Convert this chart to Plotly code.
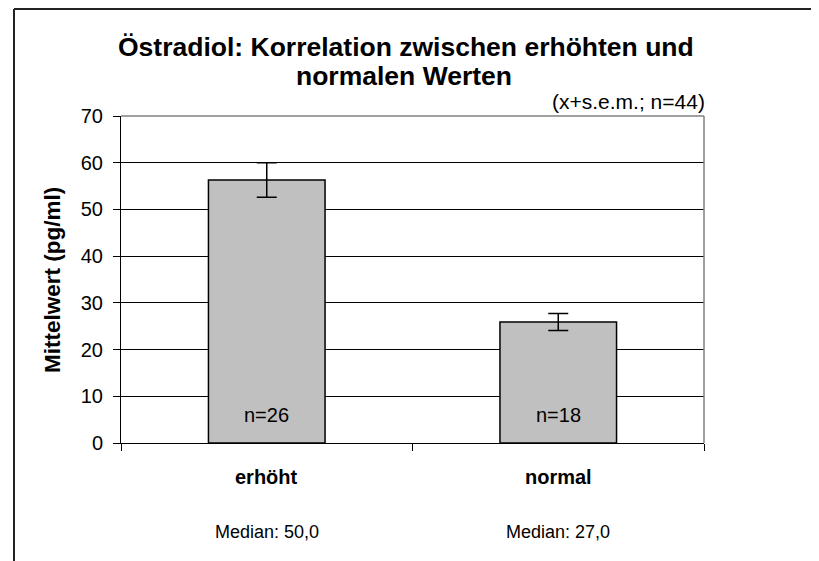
"""Östradiol: Mittelwerte erhöht vs. normal mit s.e.m.-Fehlerbalken."""

import plotly.graph_objects as go

gruppen = ["erhöht", "normal"]
mittelwerte = [56.3, 25.9]
sem = [3.7, 1.8]
n_werte = [26, 18]
mediane = ["50,0", "27,0"]

FONT = "Liberation Sans, Arial, sans-serif"

# Pixel-Layout des Originals (819x561); die Seite hat 8px Body-Rand
W, H = 819, 561
OFF = 8
L, R, T, B = 121, 704, 116, 443


def px_x(p):
    return (p - L) / (R - L)


def px_y(p):
    return (B - p) / (B - T)


def text_at(x, y, text, size, xref="paper", yref="paper", **kw):
    return dict(x=x, y=y, xref=xref, yref=yref, text=text, showarrow=False,
                xanchor=kw.pop("xanchor", "center"), yanchor="middle",
                font=dict(size=size, color="black", family=FONT), **kw)


xs = list(range(len(gruppen)))

fig = go.Figure(
    go.Bar(
        x=xs,
        y=mittelwerte,
        width=0.4,
        marker=dict(color="#C0C0C0", line=dict(color="black", width=1.5)),
        error_y=dict(type="data", array=sem, visible=True, color="black", thickness=1.5, width=10),
        hoverinfo="skip",
    )
)

ann = []
for i, g in enumerate(gruppen):
    ann.append(text_at(i, 6, f"n={n_werte[i]}", 20, xref="x", yref="y"))
    ann.append(text_at(i, px_y(477), f"<b>{g}</b>", 20, xref="x"))
    ann.append(text_at(i, px_y(532), f"Median: {mediane[i]}", 18, xref="x"))

ann.append(text_at(px_x(406), px_y(47), "<b>Östradiol: Korrelation zwischen erhöhten und</b>", 26.5))
ann.append(text_at(px_x(404), px_y(76), "<b>normalen Werten</b>", 26.5))
ann.append(text_at(px_x(707), px_y(102), "(x+s.e.m.; n=44)", 21, xanchor="right"))
ann.append(text_at(px_x(52), px_y(280), "<b>Mittelwert (pg/ml)</b>", 22.5, textangle=-90))

shapes = [
    # Rahmen um das Diagramm (oben und links)
    dict(type="line", xref="paper", yref="paper", x0=px_x(14), x1=px_x(W + 5), y0=px_y(9), y1=px_y(9),
         line=dict(color="#222222", width=2)),
    dict(type="line", xref="paper", yref="paper", x0=px_x(14), x1=px_x(14), y0=px_y(9), y1=px_y(H + 5),
         line=dict(color="#222222", width=2)),
    # Plotbereich oben und rechts grau
    dict(type="line", xref="paper", yref="paper", x0=0, x1=1, y0=1, y1=1,
         line=dict(color="#808080", width=1.5)),
    dict(type="line", xref="paper", yref="paper", x0=1, x1=1, y0=0, y1=1,
         line=dict(color="#808080", width=1.5)),
]

fig.update_layout(
    width=W - OFF,
    height=H - OFF,
    margin=dict(l=L - OFF, r=W - R, t=T - OFF, b=H - B),
    paper_bgcolor="white",
    plot_bgcolor="white",
    showlegend=False,
    font=dict(family=FONT, color="black"),
    annotations=ann,
    shapes=shapes,
    xaxis=dict(
        range=[-0.5, 1.5],
        tickvals=[-0.5, 0.5, 1.5],
        showticklabels=False,
        ticks="outside",
        ticklen=7,
        tickcolor="black",
        showgrid=False,
        zeroline=False,
        showline=True,
        linecolor="black",
        linewidth=1,
        fixedrange=True,
    ),
    yaxis=dict(
        range=[0, 70],
        dtick=10,
        ticks="outside",
        ticklen=7,
        tickcolor="black",
        tickfont=dict(size=20, family=FONT),
        ticklabelstandoff=6,
        showgrid=True,
        gridcolor="black",
        gridwidth=1,
        zeroline=False,
        showline=True,
        linecolor="black",
        linewidth=1,
        fixedrange=True,
    ),
)

fig.write_html("out.html")
